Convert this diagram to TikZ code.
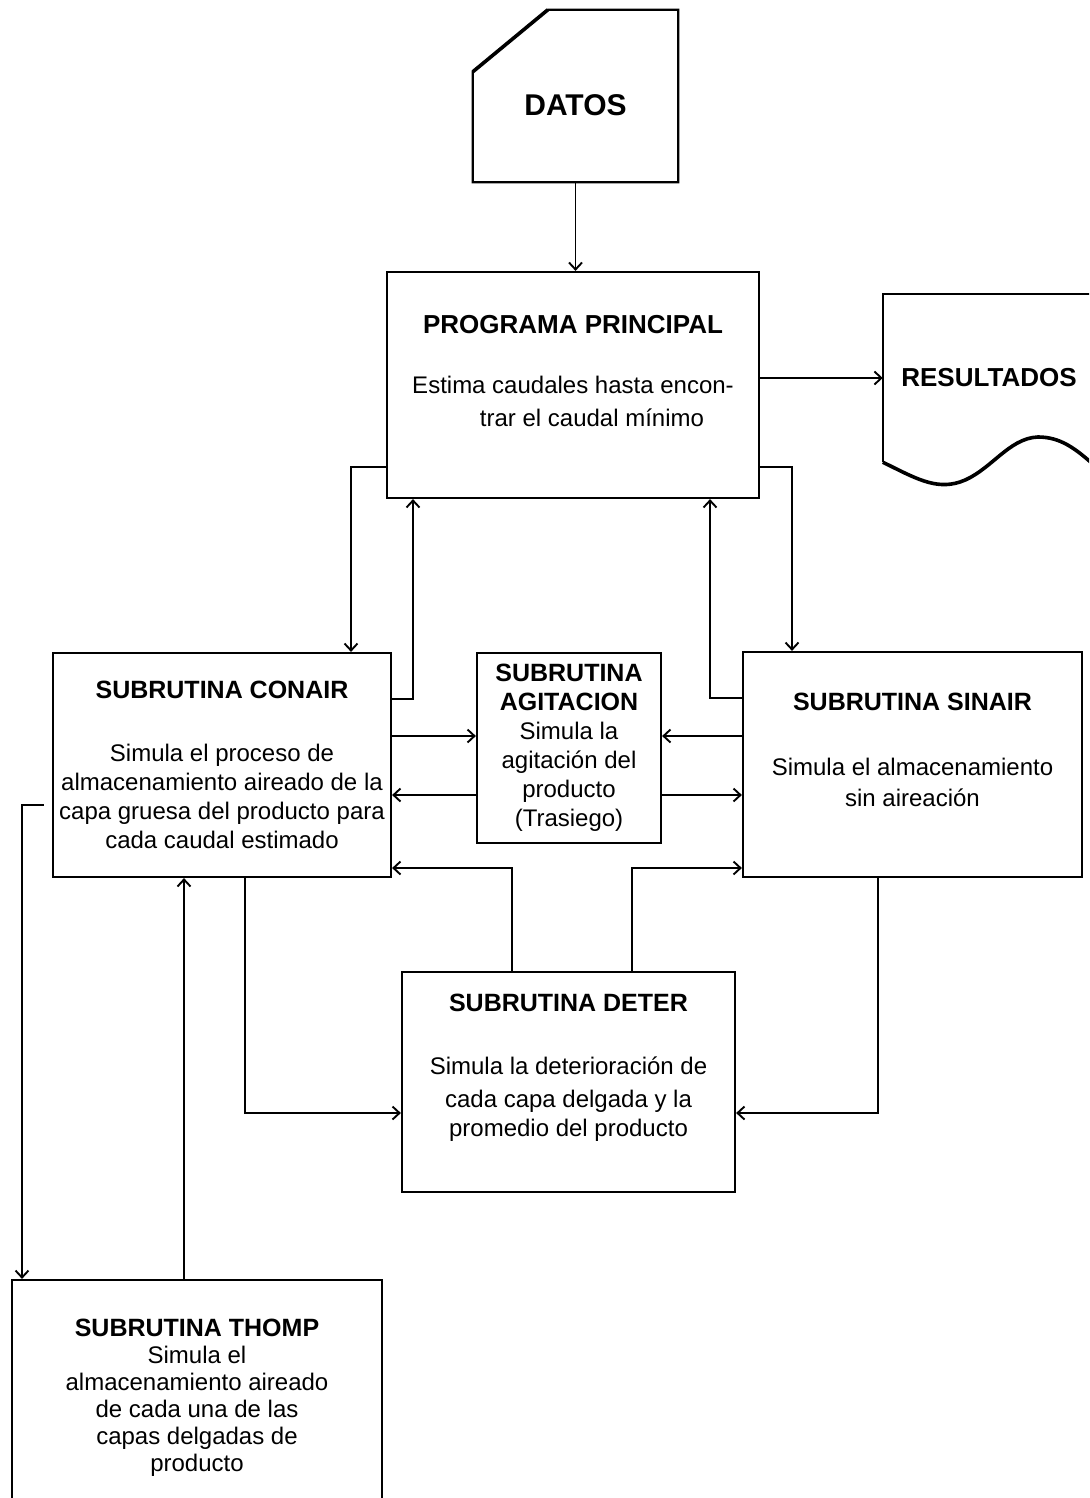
\documentclass[tikz,border=0pt]{standalone}
\usepackage{fontspec}
\setmainfont{Liberation Sans}
\usetikzlibrary{arrows.meta,calc}

\newcommand{\boxtitle}[1]{{\fontsize{25}{29}\selectfont\bfseries #1}}

\begin{document}
\begin{tikzpicture}[x=1pt,y=-1pt,
  box/.style={draw,line width=2.2pt,rectangle,align=center,font={\fontsize{24}{29}\selectfont}},
  conn/.style={line width=1.9pt},
  >={Straight Barb[length=7pt,width=13pt]}]

\fill[white] (0,0) rectangle (1089,1498);
\useasboundingbox (0,0) rectangle (1089,1498);
\clip (0,0) rectangle (1089,1498);

\node (DATOS) at (575.5,96) [minimum width=205pt,minimum height=172pt,text height=40pt,text depth=0pt,font={\fontsize{30}{36}\selectfont\bfseries}] {DATOS};
\node (PP) at (573,385) [box,minimum width=372pt,minimum height=226pt] {{\fontsize{26}{29}\selectfont\bfseries PROGRAMA PRINCIPAL}\\[31pt] Estima caudales hasta encon-\\[4pt] \hspace*{38pt}trar el caudal mínimo\\ \mbox{}};
\node (RES) at (989,378) [minimum width=212pt,minimum height=168pt,font={\fontsize{26}{30}\selectfont\bfseries}] {RESULTADOS};
\node (CONAIR) at (222,765) [box,minimum width=338pt,minimum height=224pt] {\boxtitle{SUBRUTINA CONAIR}\\[34pt] Simula el proceso de\\ almacenamiento aireado de la\\ capa gruesa del producto para\\ cada caudal estimado};
\node (AGIT) at (569,748) [box,minimum width=184pt,minimum height=190pt] {\boxtitle{SUBRUTINA}\\ \boxtitle{AGITACION}\\ Simula la\\ agitación del\\ producto\\ (Trasiego)};
\node (SINAIR) at (912.5,764.5) [box,minimum width=339pt,minimum height=225pt] {\boxtitle{SUBRUTINA SINAIR}\\[36pt] Simula el almacenamiento\\[2pt] sin aireación\\ \mbox{}};
\node (DETER) at (568.5,1082) [box,minimum width=333pt,minimum height=220pt] {\boxtitle{SUBRUTINA DETER}\\[34pt] Simula la deterioración de\\[4pt] cada capa delgada y la\\ promedio del producto\\[5pt] \mbox{}};
\node (THOMP) at (197,1397.5) [box,minimum width=370pt,minimum height=235pt,font={\fontsize{24}{27}\selectfont}] {\boxtitle{SUBRUTINA THOMP}\\ Simula el\\ almacenamiento aireado\\ de cada una de las\\ capas delgadas de\\ producto};

% document shapes
\draw[line width=2.2pt] (DATOS.south west) -- ($(DATOS.north west)+(0,62)$) -- ($(DATOS.north west)+(75,0)$) -- (DATOS.north east) -- (DATOS.south east) -- cycle;
\draw[line width=3.6pt] ($(DATOS.north west)+(0,62)$) -- ($(DATOS.north west)+(75,0)$);
\draw[line width=2.4pt] (RES.north east) -- (RES.north west) -- (RES.south west);
\draw[line width=3.6pt] (RES.south west) .. controls (915,478) and (935,490) .. (960,482) .. controls (990,472) and (1008,438) .. (1038,437) .. controls (1060,437) and (1075,448) .. (1095,466);

% bends
\coordinate (k1) at (351,467);
\coordinate (k2) at (413,699);
\coordinate (k3) at (792,467);
\coordinate (k4) at (710,698);
\coordinate (k5) at (0,736);
\coordinate (k6) at (0,795);
\coordinate (k7) at (512,868);
\coordinate (k8) at (632,868);
\coordinate (k9) at (245,1113);
\coordinate (k10) at (878,1113);
\coordinate (k11) at (22,805);
\coordinate (k12) at (184,0);

\draw[conn,->] (DATOS.south) -- (DATOS.south |- PP.north);
\draw[conn,->] (PP.east |- RES) -- (RES.west);
\draw[conn,->] (PP.west |- k1) -| (CONAIR.north -| k1);
\draw[conn,->] (CONAIR.east |- k2) -| (PP.south -| k2);
\draw[conn,->] (PP.east |- k3) -| (SINAIR.north -| k3);
\draw[conn,->] (SINAIR.west |- k4) -| (PP.south -| k4);
\draw[conn,->] (CONAIR.east |- k5) -- (AGIT.west |- k5);
\draw[conn,->] (SINAIR.west |- k5) -- (AGIT.east |- k5);
\draw[conn,->] (AGIT.west |- k6) -- (CONAIR.east |- k6);
\draw[conn,->] (AGIT.east |- k6) -- (SINAIR.west |- k6);
\draw[conn,->] (DETER.north -| k7) |- (CONAIR.east |- k7);
\draw[conn,->] (DETER.north -| k8) |- (SINAIR.west |- k8);
\draw[conn,->] (CONAIR.south -| k9) |- (DETER.west |- k9);
\draw[conn,->] (SINAIR.south -| k10) |- (DETER.east |- k10);
\draw[conn,->,shorten <=8pt] (CONAIR.west |- k11) -| (THOMP.north -| k11);
\draw[conn,->] (THOMP.north -| k12) -- (CONAIR.south -| k12);
\end{tikzpicture}
\end{document}
